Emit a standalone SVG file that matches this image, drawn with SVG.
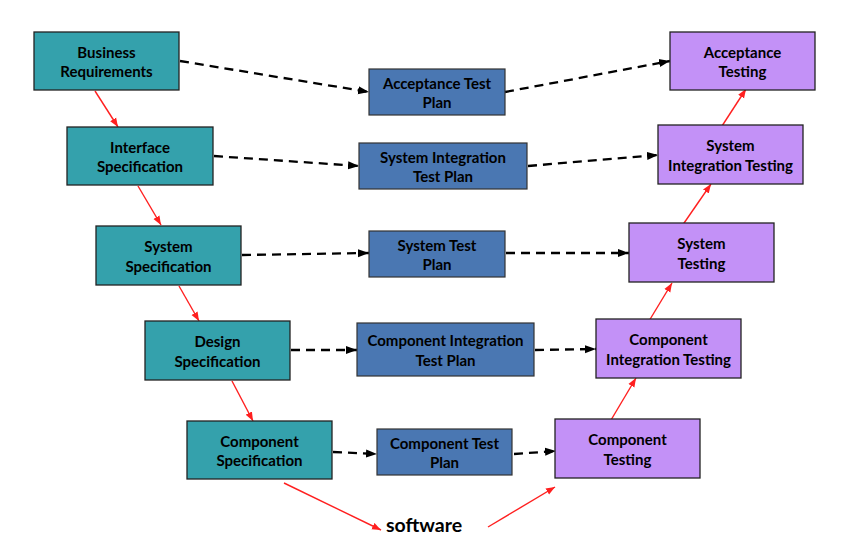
<svg xmlns="http://www.w3.org/2000/svg" width="868" height="558" viewBox="0 0 868 558">
<defs>
<marker id="ab" markerUnits="userSpaceOnUse" markerWidth="12" markerHeight="10" refX="11" refY="5" orient="auto"><path d="M0,1 L11,5 L0,9 Z" fill="#000"/></marker>
<marker id="ar" markerUnits="userSpaceOnUse" markerWidth="10" markerHeight="8" refX="9" refY="4" orient="auto"><path d="M0,0.5 L9,4 L0,7.5 Z" fill="#FF1F1F"/></marker>
<style>
.t{fill:#34A1AC;stroke:#222;stroke-width:1.3}
.b{fill:#4A77B2;stroke:#333;stroke-width:1.2}
.p{fill:#C391F7;stroke:#222;stroke-width:1.3}
text{font-family:Lato,"Liberation Sans",sans-serif;font-weight:bold;font-size:15px;fill:#000;text-anchor:middle}
.d{stroke:#000;stroke-width:2.3;stroke-dasharray:9 6;fill:none;marker-end:url(#ab)}
.r{stroke:#FF1F1F;stroke-width:1.4;fill:none;marker-end:url(#ar)}
</style>
</defs>
<rect width="868" height="558" fill="#fff"/>
<g id="connectors">
<line class="r" x1="95" y1="91" x2="118" y2="127"/>
<line class="r" x1="138" y1="186" x2="161" y2="225"/>
<line class="r" x1="179" y1="286" x2="199" y2="321"/>
<line class="r" x1="232" y1="381" x2="253" y2="421"/>
<line class="r" x1="284" y1="483" x2="381" y2="530"/>
<line class="r" x1="488" y1="527" x2="555" y2="487"/>
<line class="r" x1="611" y1="420" x2="636" y2="378"/>
<line class="r" x1="649" y1="321" x2="672" y2="283"/>
<line class="r" x1="682" y1="226" x2="711" y2="184"/>
<line class="r" x1="722" y1="126" x2="746" y2="89"/>
<line class="d" x1="180" y1="61" x2="369" y2="92"/>
<line class="d" x1="505" y1="92" x2="670" y2="61"/>
<line class="d" x1="214" y1="156" x2="359" y2="166"/>
<line class="d" x1="528" y1="166" x2="658" y2="155"/>
<line class="d" x1="242" y1="255" x2="369" y2="253"/>
<line class="d" x1="506" y1="253" x2="629" y2="253"/>
<line class="d" x1="291" y1="350" x2="357" y2="350"/>
<line class="d" x1="535" y1="350" x2="596" y2="349"/>
<line class="d" x1="333" y1="452" x2="377" y2="454"/>
<line class="d" x1="514" y1="454" x2="556" y2="451"/>
</g>
<g id="business-requirements"><rect class="t" x="34" y="32" width="145" height="58"/><text x="106.5" y="57.5">Business</text><text x="106.5" y="77">Requirements</text></g>
<g id="interface-specification"><rect class="t" x="67" y="127" width="146" height="58"/><text x="140" y="152.5">Interface</text><text x="140" y="172">Specification</text></g>
<g id="system-specification"><rect class="t" x="96" y="226" width="145" height="59"/><text x="168.5" y="252">System</text><text x="168.5" y="271.5">Specification</text></g>
<g id="design-specification"><rect class="t" x="145" y="321" width="145" height="59"/><text x="217.5" y="347">Design</text><text x="217.5" y="366.5">Specification</text></g>
<g id="component-specification"><rect class="t" x="187" y="421" width="145" height="58"/><text x="259.5" y="446.5">Component</text><text x="259.5" y="466">Specification</text></g>
<g id="acceptance-test-plan"><rect class="b" x="369" y="69" width="136" height="46"/><text x="437" y="88.5">Acceptance Test</text><text x="437" y="108">Plan</text></g>
<g id="system-integration-test-plan"><rect class="b" x="359" y="143" width="168" height="46"/><text x="443" y="162.5">System Integration</text><text x="443" y="182">Test Plan</text></g>
<g id="system-test-plan"><rect class="b" x="369" y="231" width="136" height="46"/><text x="437" y="250.5">System Test</text><text x="437" y="270">Plan</text></g>
<g id="component-integration-test-plan"><rect class="b" x="357" y="323" width="177" height="53"/><text x="445.5" y="346">Component Integration</text><text x="445.5" y="365.5">Test Plan</text></g>
<g id="component-test-plan"><rect class="b" x="377" y="429" width="135" height="46"/><text x="444.5" y="448.5">Component Test</text><text x="444.5" y="468">Plan</text></g>
<g id="acceptance-testing"><rect class="p" x="670" y="32" width="145" height="58"/><text x="742.5" y="57.5">Acceptance</text><text x="742.5" y="77">Testing</text></g>
<g id="system-integration-testing"><rect class="p" x="658" y="125" width="145" height="59"/><text x="730.5" y="151">System</text><text x="730.5" y="170.5">Integration Testing</text></g>
<g id="system-testing"><rect class="p" x="629" y="223" width="145" height="59"/><text x="701.5" y="249">System</text><text x="701.5" y="268.5">Testing</text></g>
<g id="component-integration-testing"><rect class="p" x="596" y="319" width="145" height="59"/><text x="668.5" y="345">Component</text><text x="668.5" y="364.5">Integration Testing</text></g>
<g id="component-testing"><rect class="p" x="555" y="419" width="145" height="59"/><text x="627.5" y="445">Component</text><text x="627.5" y="464.5">Testing</text></g>
<g id="software"><text x="424" y="532" style="font-size:19.5px">software</text></g>
</svg>
